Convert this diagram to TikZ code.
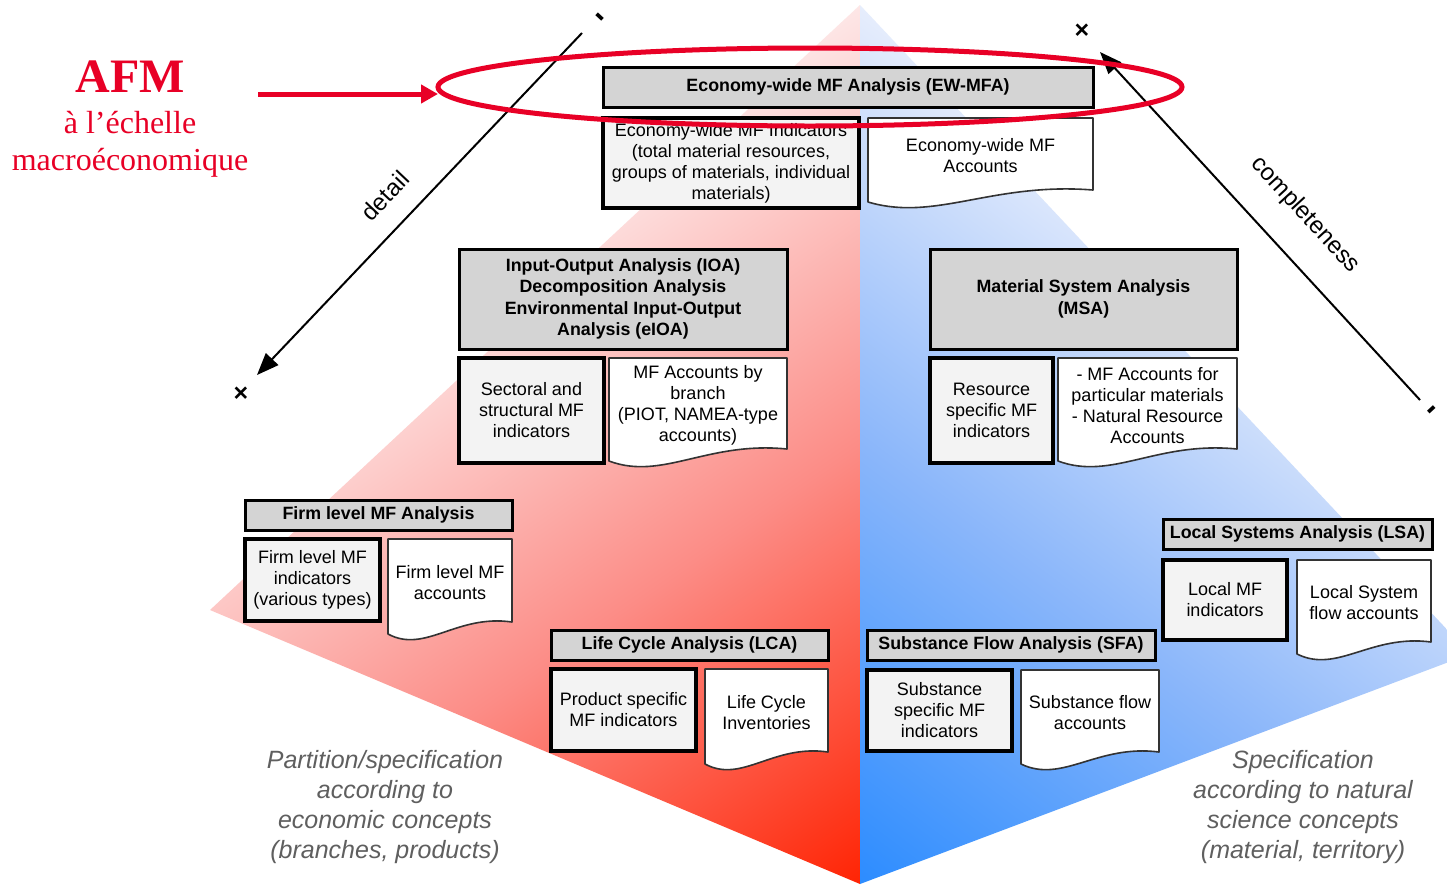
\documentclass[tikz,border=0pt]{standalone}
\usepackage{fontspec}
\setmainfont{Liberation Sans}
\newfontfamily\timesfont{Liberation Serif}
\usetikzlibrary{arrows.meta,shapes.geometric}
\definecolor{hdrgray}{RGB}{212,212,212}
\definecolor{indgray}{RGB}{243,243,243}
\definecolor{afmred}{RGB}{232,0,38}
\definecolor{redlight}{RGB}{253,230,230}
\definecolor{redmid}{RGB}{252,140,134}
\definecolor{reddark}{RGB}{255,36,4}
\definecolor{bluelight}{RGB}{230,237,252}
\definecolor{bluemid}{RGB}{138,182,250}
\definecolor{bluedark}{RGB}{44,140,255}
\definecolor{italgray}{RGB}{95,95,95}
\newcommand{\docbox}[6]{%
  \draw[docline] (#2,#3) -- (#4,#3) -- (#4,#5-18)
    .. controls ({#2+0.55*(#4-#2)},#5-26) and ({#2+0.3*(#4-#2)},#5+14) .. (#2,#5-6) -- cycle;
  \node[doctext] (#1) at ({(#2+#4)/2},{(#3+#5-18)/2+2}) {#6};
}
\begin{document}
\begin{tikzpicture}[x=1pt,y=-1pt,
  hdr/.style={draw=black, line width=3pt, fill=hdrgray, inner sep=0pt, outer sep=0pt, align=center, font=\bfseries\fontsize{17.8}{21.4}\selectfont},
  ind/.style={draw=black, line width=3.6pt, fill=indgray, inner sep=0pt, outer sep=0pt, align=center, font=\fontsize{18}{21}\selectfont},
  doctext/.style={inner sep=0pt, align=center, font=\fontsize{18}{21}\selectfont},
  docline/.style={draw=black!80, line width=1.6pt, fill=white, line join=round},
  axisline/.style={line width=2pt, -{Triangle[length=22pt,width=17pt]}},
  axislabel/.style={font=\fontsize{24}{28}\selectfont, inner sep=0pt},
  signmark/.style={font=\bfseries\fontsize{25}{28}\selectfont, inner sep=0pt},
  tickmark/.style={font=\bfseries\fontsize{32}{34}\selectfont, inner sep=0pt},
  note/.style={font=\itshape\fontsize{25}{30}\selectfont, text=italgray, align=center, inner sep=0pt},
  afmtext/.style={text=afmred, inner sep=0pt, anchor=base},
]
\useasboundingbox[fill=white] (0,0) rectangle (1447,884);
% red triangle
\begin{scope}
  \clip (860,5) -- (210,610) -- (860,884) -- cycle;
  \begin{scope}[transform canvas={rotate around={-55:(860,884)}}]
    \shade[left color=redlight, right color=reddark, middle color=redmid] (140,-316) rectangle (860,2084);
  \end{scope}
\end{scope}
% blue triangle
\begin{scope}
  \clip (860,5) -- (1470,654) -- (860,884) -- cycle;
  \begin{scope}[transform canvas={rotate around={-126.87:(860,884)}}]
    \shade[left color=bluelight, right color=bluedark, middle color=bluemid] (157,-316) rectangle (860,2084);
  \end{scope}
\end{scope}
% axes
\coordinate (dtop) at (582,33);
\coordinate (dtip) at (257,375);
\draw[axisline] (dtop) -- (dtip);
\coordinate (cbot) at (1420,400);
\coordinate (ctip) at (1100,52);
\draw[axisline] (cbot) -- (ctip);
\node[axislabel, rotate=46.6] (detail) at (385,196) {detail};
\node[axislabel, rotate=-47.4] (compl) at (1305,215) {completeness};
\node[signmark] (xdetail) at (241,394) {×};
\node[tickmark, rotate=-43] (mdetail) at (598,19) {-};
\node[signmark] (xcomp) at (1082,31) {×};
\node[tickmark, rotate=43] (mcomp) at (1434,412) {-};
% EW-MFA
\node[hdr, minimum width=490pt, minimum height=40pt] (ewmfa) at (848,87) {Economy-wide MF Analysis (EW-MFA)};
\node[ind, minimum width=256pt, minimum height=90pt] (ewind) at (731,163) {Economy-wide MF Indicators\\(total material resources,\\groups of materials, individual\\materials)};
\docbox{ewdoc}{868}{118}{1093}{208}{Economy-wide MF\\Accounts}
% IOA
\node[hdr, minimum width=328pt, minimum height=100pt] (ioa) at (623,299) {Input-Output Analysis (IOA)\\Decomposition Analysis\\Environmental Input-Output\\Analysis (eIOA)};
\node[ind, minimum width=145pt, minimum height=105pt] (ioaind) at (531.5,410.5) {Sectoral and\\structural MF\\indicators};
\docbox{ioadoc}{609}{358}{787}{467}{MF Accounts by\\branch\\(PIOT, NAMEA-type\\accounts)}
% MSA
\node[hdr, minimum width=307pt, minimum height=100pt] (msa) at (1083.5,299) {Material System Analysis\\(MSA)};
\node[ind, minimum width=123pt, minimum height=105pt] (msaind) at (991.5,410.5) {Resource\\specific MF\\indicators};
\docbox{msadoc}{1058}{358}{1237}{467}{- MF Accounts for\\particular materials\\- Natural Resource\\Accounts}
% Firm
\node[hdr, minimum width=267pt, minimum height=30pt] (firm) at (378.5,515) {Firm level MF Analysis};
\node[ind, minimum width=135pt, minimum height=82pt] (firmind) at (312.5,580) {Firm level MF\\indicators\\(various types)};
\docbox{firmdoc}{388}{539}{512}{640}{Firm level MF\\accounts}
% LSA
\node[hdr, minimum width=269pt, minimum height=30pt] (lsa) at (1297.5,534) {Local Systems Analysis (LSA)};
\node[ind, minimum width=124pt, minimum height=80pt] (lsaind) at (1225,600) {Local MF\\indicators};
\docbox{lsadoc}{1297}{560}{1431}{660}{Local System\\flow accounts}
% LCA
\node[hdr, minimum width=277pt, minimum height=30pt] (lca) at (689.5,645) {Life Cycle Analysis (LCA)};
\node[ind, minimum width=145pt, minimum height=82pt] (lcaind) at (623.5,710) {Product specific\\MF indicators};
\docbox{lcadoc}{705}{669}{828}{770}{Life Cycle\\Inventories}
% SFA
\node[hdr, minimum width=288pt, minimum height=30pt] (sfa) at (1011,645) {Substance Flow Analysis (SFA)};
\node[ind, minimum width=145pt, minimum height=81pt] (sfaind) at (939.5,710.5) {Substance\\specific MF\\indicators};
\docbox{sfadoc}{1021}{670}{1159}{770}{Substance flow\\accounts}
% notes
\node[note] (leftnote) at (385,807) {Partition/specification\\according to\\economic concepts\\(branches, products)};
\node[note] (rightnote) at (1303,807) {Specification\\according to natural\\science concepts\\(material, territory)};
% red annotation
\node[afmtext, font=\timesfont\bfseries\fontsize{48}{50}\selectfont] (afm) at (130,92) {AFM};
\node[afmtext, font=\timesfont\fontsize{32}{36}\selectfont] (afm2) at (130,133) {à l’échelle};
\node[afmtext, font=\timesfont\fontsize{32}{36}\selectfont] (afm3) at (130,170) {macroéconomique};
\node[draw=afmred, line width=5pt, ellipse, minimum width=744pt, minimum height=78pt, inner sep=0pt] (ring) at (810,87) {};
\coordinate (afmstart) at (258,94);
\coordinate (afmtip) at (438,94);
\draw[afmred, line width=5pt, -{Triangle[length=17pt,width=18pt]}] (afmstart) -- (afmtip);
\end{tikzpicture}
\end{document}
